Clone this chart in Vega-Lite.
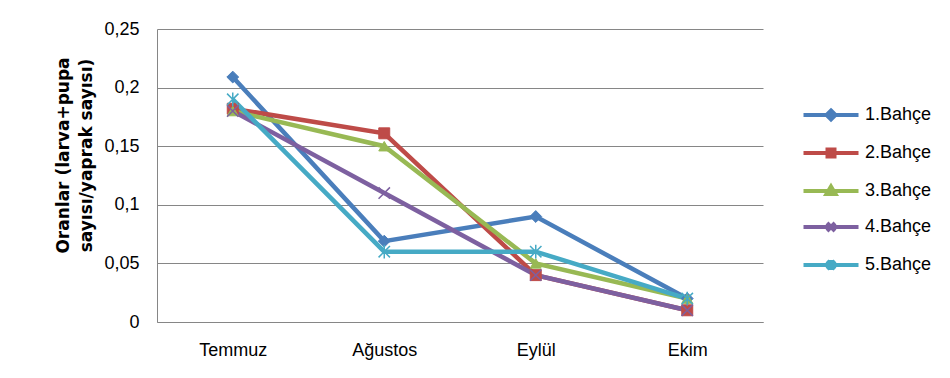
{
  "$schema": "https://vega.github.io/schema/vega-lite/v6.json",
  "width": 606,
  "height": 293,
  "autosize": {"type": "none"},
  "padding": {"left": 157, "top": 29, "right": 187, "bottom": 56},
  "background": "white",
  "config": {"view": {"stroke": null}, "font": "Liberation Sans"},
  "data": {
    "values": [
      {"ay": "Temmuz", "bahce": "1.Bahçe", "oran": 0.209},
      {"ay": "Ağustos", "bahce": "1.Bahçe", "oran": 0.069},
      {"ay": "Eylül", "bahce": "1.Bahçe", "oran": 0.09},
      {"ay": "Ekim", "bahce": "1.Bahçe", "oran": 0.02},
      {"ay": "Temmuz", "bahce": "2.Bahçe", "oran": 0.182},
      {"ay": "Ağustos", "bahce": "2.Bahçe", "oran": 0.161},
      {"ay": "Eylül", "bahce": "2.Bahçe", "oran": 0.04},
      {"ay": "Ekim", "bahce": "2.Bahçe", "oran": 0.01},
      {"ay": "Temmuz", "bahce": "3.Bahçe", "oran": 0.18},
      {"ay": "Ağustos", "bahce": "3.Bahçe", "oran": 0.15},
      {"ay": "Eylül", "bahce": "3.Bahçe", "oran": 0.05},
      {"ay": "Ekim", "bahce": "3.Bahçe", "oran": 0.02},
      {"ay": "Temmuz", "bahce": "4.Bahçe", "oran": 0.18},
      {"ay": "Ağustos", "bahce": "4.Bahçe", "oran": 0.11},
      {"ay": "Eylül", "bahce": "4.Bahçe", "oran": 0.04},
      {"ay": "Ekim", "bahce": "4.Bahçe", "oran": 0.01},
      {"ay": "Temmuz", "bahce": "5.Bahçe", "oran": 0.19},
      {"ay": "Ağustos", "bahce": "5.Bahçe", "oran": 0.06},
      {"ay": "Eylül", "bahce": "5.Bahçe", "oran": 0.06},
      {"ay": "Ekim", "bahce": "5.Bahçe", "oran": 0.02}
    ]
  },
  "encoding": {
    "x": {
      "field": "ay",
      "type": "ordinal",
      "sort": ["Temmuz", "Ağustos", "Eylül", "Ekim"],
      "scale": {"type": "point", "padding": 0.5},
      "axis": {
        "title": null,
        "labelAngle": 0,
        "ticks": false,
        "domainColor": "#868686",
        "domainWidth": 1,
        "labelFontSize": 18,
        "labelColor": "#000000",
        "labelPadding": 19,
        "grid": false
      }
    },
    "y": {
      "field": "oran",
      "type": "quantitative",
      "scale": {"domain": [0, 0.25], "nice": false},
      "axis": {
        "values": [0, 0.05, 0.1, 0.15, 0.2, 0.25],
        "labelExpr": "replace(format(datum.value, '.2~f'), '.', ',')",
        "ticks": false,
        "domainColor": "#868686",
        "grid": true,
        "gridColor": "#868686",
        "gridWidth": 1,
        "labelFontSize": 18,
        "labelColor": "#000000",
        "labelPadding": 18,
        "title": ["Oranlar (larva+pupa", "sayısı/yaprak sayısı)"],
        "titleFont": "DejaVu Sans",
        "titleFontSize": 17,
        "titleFontWeight": "bold",
        "titleColor": "#000000",
        "titleLineHeight": 23,
        "titlePadding": 8,
        "titleY": 126
      }
    },
    "color": {
      "field": "bahce",
      "type": "nominal",
      "scale": {
        "domain": ["1.Bahçe", "2.Bahçe", "3.Bahçe", "4.Bahçe", "5.Bahçe"],
        "range": ["#4A7EBB", "#BE4B48", "#98B954", "#7D60A0", "#46AAC5"]
      },
      "legend": {
        "title": null,
        "orient": "none",
        "legendX": 662,
        "legendY": 74,
        "symbolSize": 400,
        "symbolStrokeWidth": 4,
        "labelFontSize": 18,
        "labelColor": "#000000",
        "labelOffset": 22,
        "rowPadding": 13,
        "encode": {
          "symbols": {
            "update": {
              "shape": {"signal": "datum.value === '1.Bahçe' ? 'M-2.75,0L2.75,0M0,-0.45L0.45,0L0,0.45L-0.45,0Z' : datum.value === '2.Bahçe' ? 'M-2.75,0L2.75,0M-0.35,-0.35L0.35,-0.35L0.35,0.35L-0.35,0.35Z' : datum.value === '3.Bahçe' ? 'M-2.75,0L2.75,0M0,-0.45L0.45,0.3L-0.45,0.3Z' : datum.value === '4.Bahçe' ? 'M-2.75,0L2.75,0M-0.4,-0.4L0.4,0.4M-0.4,0.4L0.4,-0.4' : 'M-2.75,0L2.75,0M-0.4,-0.4L0.4,0.4M-0.4,0.4L0.4,-0.4M0,-0.5L0,0.5'"},
              "fill": {"signal": "scale('color', datum.value)"},
              "stroke": {"signal": "scale('color', datum.value)"},
              "strokeWidth": {"value": 4},
              "opacity": {"value": 1}
            }
          }
        }
      }
    }
  },
  "layer": [
    {
      "mark": {"type": "line", "strokeWidth": 4.5},
      "encoding": {}
    },
    {
      "transform": [{"filter": "datum.bahce === '1.Bahçe'"}],
      "mark": {"type": "point", "filled": true, "opacity": 1, "size": 140, "shape": "diamond", "stroke": "#4A7EBB", "strokeWidth": 1}
    },
    {
      "transform": [{"filter": "datum.bahce === '2.Bahçe'"}],
      "mark": {"type": "point", "filled": true, "opacity": 1, "size": 120, "shape": "square", "stroke": "#BE4B48", "strokeWidth": 1}
    },
    {
      "transform": [{"filter": "datum.bahce === '3.Bahçe'"}],
      "mark": {"type": "point", "filled": true, "opacity": 1, "size": 120, "shape": "triangle-up", "stroke": "#98B954", "strokeWidth": 1}
    },
    {
      "transform": [{"filter": "datum.bahce === '4.Bahçe'"}],
      "mark": {"type": "point", "filled": true, "opacity": 1, "size": 130, "shape": "M-1,-1L1,1M-1,1L1,-1", "stroke": "#7D60A0", "strokeWidth": 1.5}
    },
    {
      "transform": [{"filter": "datum.bahce === '5.Bahçe'"}],
      "mark": {"type": "point", "filled": true, "opacity": 1, "size": 130, "shape": "M-1,-1L1,1M-1,1L1,-1M0,-1.2L0,1.2", "stroke": "#46AAC5", "strokeWidth": 1.5}
    }
  ]
}
